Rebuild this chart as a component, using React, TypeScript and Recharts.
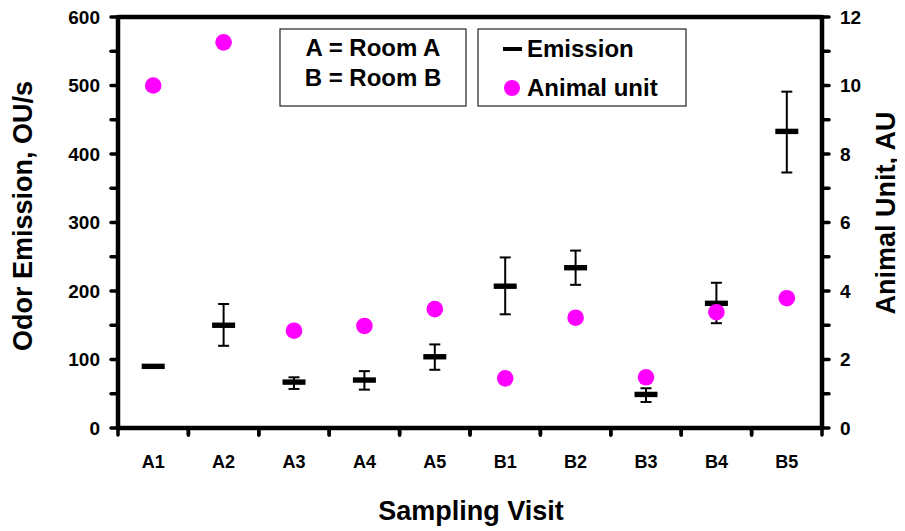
import { ComposedChart, ErrorBar, ReferenceLine, Scatter, XAxis, YAxis } from 'recharts';

const visits = ['A1', 'A2', 'A3', 'A4', 'A5', 'B1', 'B2', 'B3', 'B4', 'B5'];
const emission = [90, 150, 67, 70, 104, 207, 234, 49, 182, 433];
const emissionLow = [90, 120, 57, 56, 85, 166, 209, 38, 153, 373];
const emissionHigh = [90, 181, 74, 83, 122, 249, 259, 58, 212, 491];
const animalUnit = [10, 11.26, 2.84, 2.98, 3.47, 1.45, 3.22, 1.48, 3.38, 3.79];

const leftTicks = [0, 50, 100, 150, 200, 250, 300, 350, 400, 450, 500, 550, 600];
const rightTicks = [0, 1, 2, 3, 4, 5, 6, 7, 8, 9, 10, 11, 12];

const data = visits.map((visit, i) => ({
  visit,
  emission: emission[i],
  err: [emission[i] - emissionLow[i], emissionHigh[i] - emission[i]],
  au: animalUnit[i],
}));

const FONT = '"Liberation Sans", Arial, sans-serif';
const HALF_BAND = 35.2;
const PLOT_H = 411;
const AXIS_W = 4.5;

const EmissionMark = ({ cx, cy }: any) => (
  <rect x={cx - 11.5} y={cy - 2.7} width={23} height={5.4} fill="#000" />
);

const AuMark = ({ cx, cy }: any) => <circle cx={cx} cy={cy} r={8.3} fill="#ff00ff" />;

// category tick: marks sit on the band edges; first/last tick also draw the side frame lines
const VisitTick = ({ x, y, payload, index, visibleTicksCount }: any) => (
  <g>
    {index === 0 && (
      <line x1={x - HALF_BAND} y1={y + 2} x2={x - HALF_BAND} y2={y - PLOT_H - 2} stroke="#000" strokeWidth={AXIS_W} />
    )}
    {index === visibleTicksCount - 1 && (
      <line x1={x + HALF_BAND} y1={y + 2} x2={x + HALF_BAND} y2={y - PLOT_H - 2} stroke="#000" strokeWidth={AXIS_W} />
    )}
    <line x1={x - HALF_BAND} y1={y} x2={x - HALF_BAND} y2={y + 7} stroke="#000" strokeWidth={3.5} strokeLinecap="round" />
    <line x1={x + HALF_BAND} y1={y} x2={x + HALF_BAND} y2={y + 7} stroke="#000" strokeWidth={3.5} strokeLinecap="round" />
    <text x={x} y={y + 40} textAnchor="middle" fontSize={18} fontWeight={700} fontFamily={FONT} fill="#000">
      {payload.value}
    </text>
  </g>
);

// y ticks: dir -1 for left axis, +1 for right axis; only some ticks are labelled
const ValueTick = ({ x, y, payload, dir, every }: any) => (
  <g>
    <line x1={x} y1={y} x2={x + dir * 7} y2={y} stroke="#000" strokeWidth={3.5} strokeLinecap="round" />
    {payload.value % every === 0 && (
      <text
        x={x + dir * 18}
        y={y}
        dy="0.36em"
        textAnchor={dir < 0 ? 'end' : 'start'}
        fontSize={19}
        fontWeight={700}
        fontFamily={FONT}
        fill="#000"
      >
        {payload.value}
      </text>
    )}
  </g>
);

const AxisTitle = ({ x, y, angle, text }: any) => (
  <text
    x={x}
    y={y}
    transform={`rotate(${angle} ${x} ${y})`}
    textAnchor="middle"
    dominantBaseline="central"
    fontSize={27}
    fontWeight={700}
    fontFamily={FONT}
    fill="#000"
  >
    {text}
  </text>
);

const LegendBoxes = () => (
  <svg
    width={420}
    height={82}
    style={{ position: 'absolute', left: 271, top: 20, display: 'block', fontFamily: FONT }}
  >
    <rect x={1} y={1} width={186} height={77} fill="#fff" stroke="#222" strokeWidth={1.2} />
    <text x={94} y={28} textAnchor="middle" fontSize={24} fontWeight={700}>A = Room A</text>
    <text x={94} y={58} textAnchor="middle" fontSize={24} fontWeight={700}>B = Room B</text>
    <rect x={199} y={1} width={208} height={77} fill="#fff" stroke="#222" strokeWidth={1.2} />
    <rect x={224} y={19} width={19} height={4} fill="#000" />
    <text x={248} y={29} fontSize={24} fontWeight={700}>Emission</text>
    <circle cx={233} cy={60} r={8} fill="#ff00ff" />
    <text x={248} y={68} fontSize={24} fontWeight={700}>Animal unit</text>
  </svg>
);

export default function App() {
  return (
    <div style={{ position: 'relative', width: 897, height: 523, fontFamily: FONT }}>
      <ComposedChart width={897} height={523} data={data} margin={{ top: 9, right: 0, bottom: 0, left: 0 }}>
        <XAxis
          dataKey="visit"
          interval={0}
          height={103}
          padding={{ left: HALF_BAND, right: HALF_BAND }}
          tickLine={false}
          tickSize={0}
          tickMargin={0}
          axisLine={false}
          tick={<VisitTick />}
          label={{ content: () => <AxisTitle x={463} y={503} angle={0} text="Sampling Visit" /> }}
        />
        <YAxis
          yAxisId="left"
          domain={[0, 600]}
          ticks={leftTicks}
          interval={0}
          width={110}
          tickLine={false}
          tickSize={0}
          tickMargin={0}
          axisLine={false}
          tick={<ValueTick dir={-1} every={100} />}
          label={{ content: () => <AxisTitle x={15} y={208} angle={-90} text="Odor Emission, OU/s" /> }}
        />
        <YAxis
          yAxisId="right"
          orientation="right"
          domain={[0, 12]}
          ticks={rightTicks}
          interval={0}
          width={83}
          tickLine={false}
          tickSize={0}
          tickMargin={0}
          axisLine={false}
          tick={<ValueTick dir={1} every={2} />}
          label={{ content: () => <AxisTitle x={878} y={205} angle={-90} text="Animal Unit, AU" /> }}
        />
        <ReferenceLine yAxisId="left" y={600} stroke="#000" strokeWidth={AXIS_W} />
        <ReferenceLine yAxisId="left" y={0} stroke="#000" strokeWidth={AXIS_W} />
        <Scatter
          yAxisId="left"
          dataKey="emission"
          name="Emission"
          shape={<EmissionMark />}
          isAnimationActive={false}
        >
          <ErrorBar dataKey="err" direction="y" width={5.5} stroke="#000" strokeWidth={2} />
        </Scatter>
        <Scatter
          yAxisId="right"
          dataKey="au"
          name="Animal unit"
          shape={<AuMark />}
          isAnimationActive={false}
        />
      </ComposedChart>
      <LegendBoxes />
    </div>
  );
}
